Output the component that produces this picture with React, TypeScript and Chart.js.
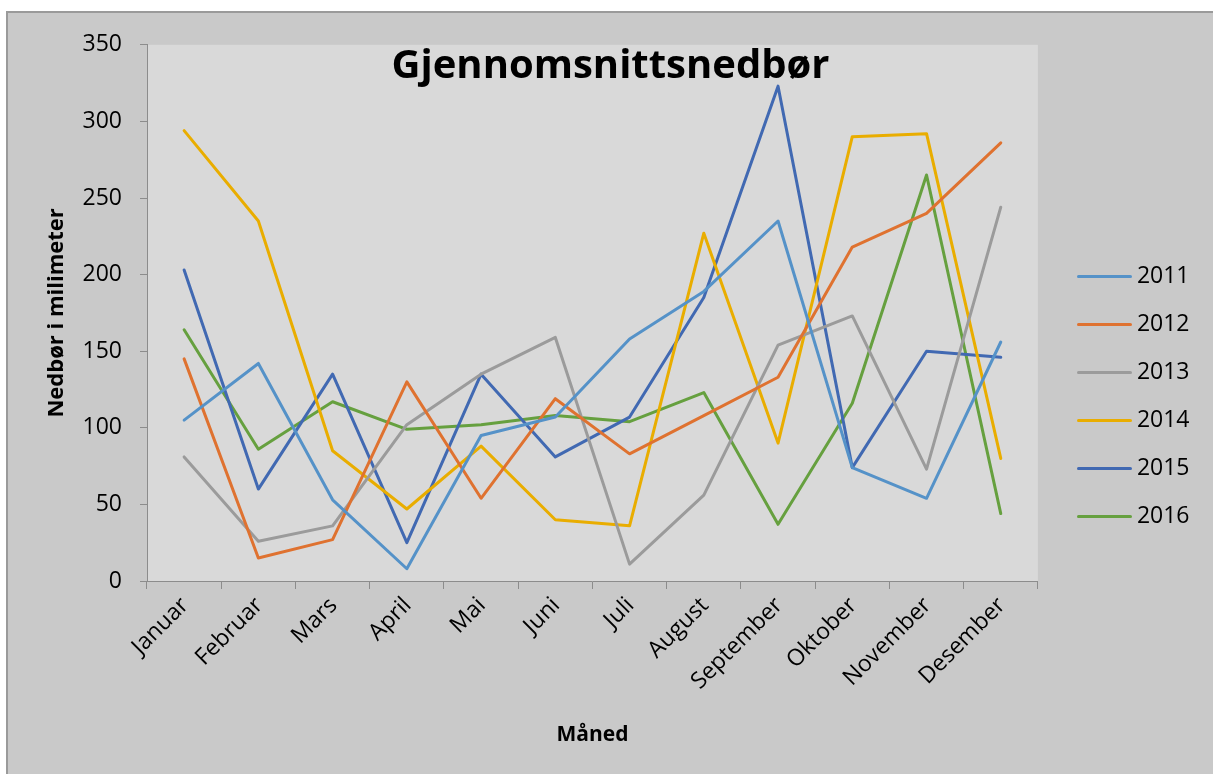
import React, { useEffect, useRef } from "react";
import { Chart, registerables } from "chart.js";

Chart.register(...registerables);

const months = [
  "Januar", "Februar", "Mars", "April", "Mai", "Juni",
  "Juli", "August", "September", "Oktober", "November", "Desember",
];
const years = ["2011", "2012", "2013", "2014", "2015", "2016"];

const y2011 = [105, 142, 53, 8, 95, 107, 158, 189, 235, 74, 54, 156];
const y2012 = [145, 15, 27, 130, 54, 119, 83, 108, 133, 218, 240, 286];
const y2013 = [81, 26, 36, 102, 135, 159, 11, 56, 154, 173, 73, 244];
const y2014 = [294, 235, 85, 47, 88, 40, 36, 227, 90, 290, 292, 80];
const y2015 = [203, 60, 135, 25, 135, 81, 107, 185, 323, 74, 150, 146];
const y2016 = [164, 86, 117, 99, 102, 108, 104, 123, 37, 116, 265, 44];

const seriesValues = [y2011, y2012, y2013, y2014, y2015, y2016];
const seriesColors = ["#5592c8", "#df7230", "#9b9b9b", "#e9ad00", "#4169b2", "#66a03f"];

const yTicks = [0, 50, 100, 150, 200, 250, 300, 350];

const FONT = "'Open Sans', 'Noto Sans', sans-serif";

function legendLine(color: string): HTMLCanvasElement {
  const cv = document.createElement("canvas");
  cv.width = 55;
  cv.height = 3;
  const c = cv.getContext("2d")!;
  c.strokeStyle = color;
  c.lineWidth = 3;
  c.lineCap = "round";
  c.beginPath();
  c.moveTo(1.5, 1.5);
  c.lineTo(53.5, 1.5);
  c.stroke();
  return cv;
}

const plotBg = {
  id: "plotBg",
  beforeDraw(chart: any) {
    const { ctx, chartArea } = chart;
    ctx.save();
    ctx.fillStyle = "#d9d9d9";
    ctx.fillRect(chartArea.left, chartArea.top, chartArea.right - chartArea.left, chartArea.bottom - chartArea.top);
    ctx.restore();
  },
};

const layoutTweaks = {
  id: "layoutTweaks",
  afterLayout(chart: any) {
    const lg = chart.legend;
    if (lg) {
      const dx = chart.chartArea.right + 20.5 - lg.left;
      lg.left += dx;
      lg.right += dx;
      lg.top += 3;
      lg.bottom += 3;
    }
    const tb = chart.titleBlock;
    if (tb) {
      tb.left = 0;
      tb.right = chart.width;
      tb.width = chart.width;
    }
  },
};

export default function App() {
  const ref = useRef<HTMLCanvasElement>(null);

  useEffect(() => {
    document.body.style.margin = "0";
    document.body.style.overflow = "hidden";
    const canvas = ref.current;
    if (!canvas) return;

    const chart = new Chart(canvas, {
      type: "line",
      data: {
        labels: months,
        datasets: years.map((yr, i) => ({
          label: yr,
          data: seriesValues[i],
          borderColor: seriesColors[i],
          backgroundColor: seriesColors[i],
          borderWidth: 3,
          pointRadius: 0,
          pointHoverRadius: 0,
          pointStyle: legendLine(seriesColors[i]) as any,
          tension: 0,
          borderJoinStyle: "round" as const,
          borderCapStyle: "round" as const,
          fill: false,
        })),
      },
      options: {
        animation: false,
        responsive: false,
        maintainAspectRatio: false,
        layout: { padding: { left: 0, right: 34, top: 0, bottom: 0 } },
        plugins: {
          tooltip: { enabled: false },
          title: {
            display: true,
            text: "Gjennomsnittsnedbør",
            color: "#000",
            font: { family: FONT, size: 40, weight: "bold" },
            padding: { top: 26.5, bottom: -45.5 },
          },
          legend: {
            display: true,
            position: "right",
            labels: {
              usePointStyle: true,
              pointStyleWidth: 42,
              padding: 25,
              color: "#000",
              font: { family: FONT, size: 23 },
            },
          },
        },
        scales: {
          x: {
            type: "category",
            offset: true,
            afterFit(scale: any) {
              scale.height = 193;
            },
            grid: {
              offset: true,
              drawOnChartArea: false,
              drawTicks: true,
              tickLength: 8,
              color: "#8c8c8c",
            },
            border: { display: true, color: "#8c8c8c", width: 1 },
            ticks: {
              color: "#000",
              font: { family: FONT, size: 23 },
              maxRotation: 45,
              minRotation: 45,
              padding: 3,
              labelOffset: 1,
              autoSkip: false,
            },
            title: {
              display: true,
              text: "Måned",
              color: "#000",
              font: { family: FONT, size: 21, weight: "bold" },
              padding: { top: 0, bottom: 26 },
            },
          },
          y: {
            min: yTicks[0],
            max: yTicks[yTicks.length - 1],
            afterFit(scale: any) {
              scale.width = 139;
            },
            afterBuildTicks(scale: any) {
              scale.ticks = yTicks.map((v) => ({ value: v }));
            },
            grid: {
              drawOnChartArea: false,
              drawTicks: true,
              tickLength: 7,
              color: "#8c8c8c",
            },
            border: { display: true, color: "#8c8c8c", width: 1 },
            ticks: {
              color: "#000",
              font: { family: FONT, size: 23 },
              padding: 18,
              stepSize: 50,
            },
            title: {
              display: true,
              text: "Nedbør i milimeter",
              color: "#000",
              font: { family: FONT, size: 22, weight: "bold" },
              padding: { top: 35.5, bottom: 0 },
            },
          },
        },
      },
      plugins: [plotBg, layoutTweaks],
    });

    return () => chart.destroy();
  }, []);

  return (
    <div
      style={{
        position: "absolute",
        left: 6,
        top: 11,
        width: 1207,
        height: 763,
        boxSizing: "border-box",
        borderLeft: "2px solid #9a9a9a",
        borderTop: "2px solid #9a9a9a",
        background: "#c9c9c9",
      }}
    >
      <canvas ref={ref} width={1205} height={761} style={{ display: "block", width: 1205, height: 761 }} />
    </div>
  );
}
